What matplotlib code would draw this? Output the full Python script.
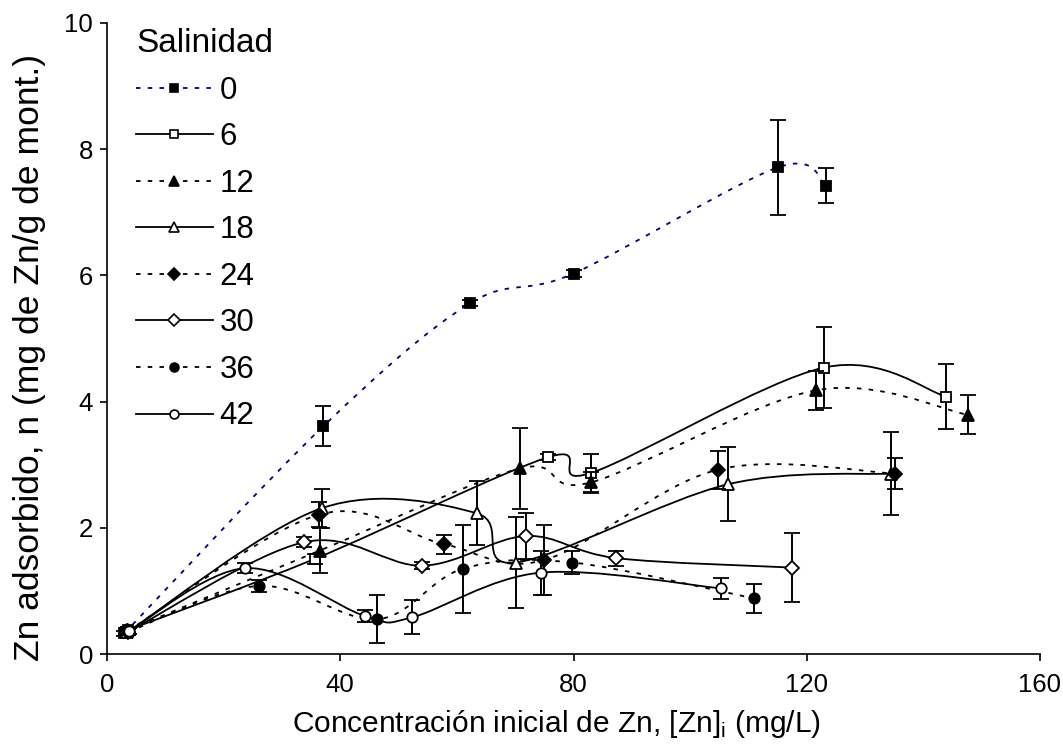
import numpy as np
import matplotlib
matplotlib.use('Agg')
import matplotlib.pyplot as plt
from matplotlib.path import Path
from matplotlib.patches import PathPatch
from matplotlib.lines import Line2D

plt.rcParams['font.family'] = ['Liberation Sans', 'DejaVu Sans']
plt.rcParams['mathtext.fontset'] = 'custom'
plt.rcParams['mathtext.rm'] = 'Liberation Sans'

# salinidad de cada serie
salinidad = ['0', '6', '12', '18', '24', '30', '36', '42']

# concentracion inicial de Zn (mg/L), Zn adsorbido (mg/g) y desviacion
x_s0 = [3.0, 37.1, 62.3, 80.0, 115.0, 123.3]
y_s0 = [0.33, 3.61, 5.56, 6.03, 7.71, 7.42]
e_s0 = [0.04, 0.32, 0.05, 0.05, 0.76, 0.28]

x_s6 = [3.6, 35.7, 75.7, 83.0, 123.0, 143.9]
y_s6 = [0.38, 1.51, 3.12, 2.87, 4.54, 4.08]
e_s6 = [0.05, 0.08, 0.05, 0.30, 0.64, 0.52]

x_s12 = [3.6, 36.5, 70.8, 83.0, 121.6, 147.7]
y_s12 = [0.38, 1.64, 2.94, 2.72, 4.18, 3.79]
e_s12 = [0.05, 0.36, 0.64, 0.17, 0.31, 0.31]

x_s18 = [3.5, 36.8, 63.4, 70.1, 106.5, 134.5]
y_s18 = [0.35, 2.31, 2.23, 1.45, 2.69, 2.86]
e_s18 = [0.05, 0.31, 0.51, 0.72, 0.59, 0.66]

x_s24 = [3.5, 36.4, 57.8, 75.0, 104.7, 135.2]
y_s24 = [0.36, 2.21, 1.74, 1.49, 2.92, 2.86]
e_s24 = [0.05, 0.20, 0.15, 0.55, 0.30, 0.25]

x_s30 = [3.6, 33.7, 54.1, 71.9, 87.3, 117.4]
y_s30 = [0.35, 1.77, 1.40, 1.87, 1.52, 1.37]
e_s30 = [0.05, 0.08, 0.06, 0.36, 0.12, 0.54]

x_s36 = [3.6, 26.1, 46.3, 61.0, 79.8, 111.0]
y_s36 = [0.35, 1.08, 0.55, 1.35, 1.45, 0.88]
e_s36 = [0.05, 0.10, 0.38, 0.70, 0.18, 0.23]

x_s42 = [3.7, 23.7, 44.3, 52.3, 74.4, 105.3]
y_s42 = [0.36, 1.36, 0.60, 0.58, 1.29, 1.04]
e_s42 = [0.05, 0.08, 0.10, 0.27, 0.35, 0.17]

conc = [x_s0, x_s6, x_s12, x_s18, x_s24, x_s30, x_s36, x_s42]
ads = [y_s0, y_s6, y_s12, y_s18, y_s24, y_s30, y_s36, y_s42]
err = [e_s0, e_s6, e_s12, e_s18, e_s24, e_s30, e_s36, e_s42]

marcas = ['s', 's', '^', '^', 'D', 'D', 'o', 'o']
rellenos = ['k', 'w', 'k', 'w', 'k', 'w', 'k', 'w']
msizes = [7.5, 7.5, 8.5, 8.5, 7, 7, 7.5, 7.5]
colores = ['#000080', 'k', 'k', 'k', 'k', 'k', 'k', 'k']
punteado = (0, (2.5, 4))
estilos = [punteado, '-', punteado, '-', punteado, '-', punteado, '-']


def curvaSuave(xs, ys):
    # linea suavizada tipo Excel: segmentos Bezier cubicos (Catmull-Rom)
    p = np.column_stack([xs, ys])
    n = len(p)
    verts = [p[0]]; codes = [Path.MOVETO]
    for i in range(n - 1):
        p0 = p[max(i - 1, 0)]; p1 = p[i]; p2 = p[i + 1]; p3 = p[min(i + 2, n - 1)]
        c1 = p1 + (p2 - p0) / 6.0
        c2 = p2 - (p3 - p1) / 6.0
        verts += [c1, c2, p2]
        codes += [Path.CURVE4] * 3
    return Path(verts, codes)


fig = plt.figure(figsize=(10.63, 7.5), dpi=100)
ax = fig.add_axes([107 / 1063, 1 - 654 / 750, (1040 - 107) / 1063, (654 - 23) / 750])

handles = []
for k in range(len(salinidad)):
    ax.add_patch(PathPatch(curvaSuave(conc[k], ads[k]), fill=False, edgecolor=colores[k],
                           lw=1.3, linestyle=estilos[k], capstyle='butt', zorder=2 + k * 0.1))
    ax.errorbar(conc[k], ads[k], yerr=err[k], fmt=marcas[k], ms=msizes[k], mfc=rellenos[k],
                mec='k', mew=1.3, ecolor='k', elinewidth=1.4, capsize=5.5, capthick=1.4,
                zorder=3 + k * 0.1)
    handles.append(Line2D([], [], color=colores[k], lw=1.3, linestyle=estilos[k],
                          marker=marcas[k], ms=msizes[k] * 0.85, mfc=rellenos[k], mec='k', mew=1.2))

ax.set_xlim(0, 160)
ax.set_ylim(0, 10)
ax.set_xticks(np.arange(0, 161, 40))
ax.set_yticks(np.arange(0, 11, 2))
ax.spines['top'].set_visible(False)
ax.spines['right'].set_visible(False)
ax.spines['left'].set_linewidth(1.2)
ax.spines['bottom'].set_linewidth(1.2)
ax.tick_params(direction='out', length=5, width=1.2, labelsize=18.5)
ax.tick_params(axis='x', pad=9)
ax.tick_params(axis='y', pad=5)

fig.text(557 / 1063, 1 - 724 / 750, 'Concentración inicial de Zn, [Zn]$_\\mathrm{i}$ (mg/L)',
         ha='center', va='center', fontsize=21.5)
fig.text(30 / 1063, 1 - 357 / 750, 'Zn adsorbido, n (mg de Zn/g de mont.)',
         ha='center', va='center', rotation=90, fontsize=25.5)

leg = ax.legend(handles, salinidad, title='Salinidad', loc='upper left',
                bbox_to_anchor=(136 / 1063, 1 - 28 / 750), bbox_transform=fig.transFigure,
                frameon=False, fontsize=22.5, handlelength=2.45, handletextpad=0.22,
                labelspacing=0.53, borderpad=0, borderaxespad=0, alignment='left')
leg.get_title().set_fontsize(24)

fig.savefig('out.png', dpi=100)
